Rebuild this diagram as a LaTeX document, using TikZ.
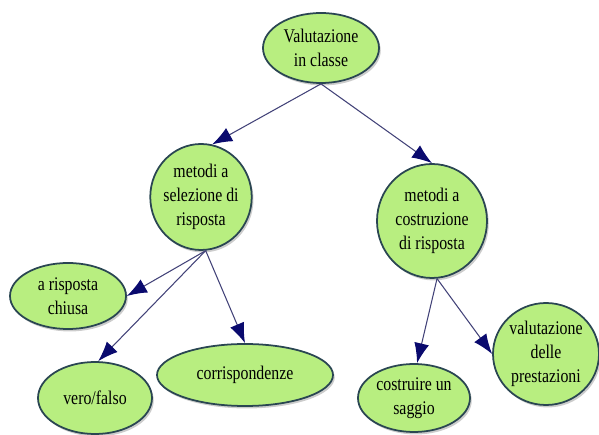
\documentclass[tikz,border=0pt]{standalone}
\usepackage{fontspec}
\setmainfont{Liberation Serif}[FakeStretch=0.82]
\usetikzlibrary{shapes.geometric, arrows.meta, shadows}
\definecolor{bubble}{RGB}{184,238,128}
\definecolor{rim}{RGB}{42,70,82}
\definecolor{navyline}{RGB}{66,66,120}
\definecolor{navytip}{RGB}{10,10,110}

\begin{document}
\begin{tikzpicture}[
    concept/.style={ellipse, draw=rim, line width=1pt, fill=bubble,
      inner sep=-1pt, align=center, font=\fontsize{11}{13.7}\selectfont,
      drop shadow={shadow xshift=1pt, shadow yshift=-1.4pt, opacity=0.4}},
    link/.style={draw=navyline, line width=0.6pt,
      -{Latex[length=4mm, width=3mm, color=navytip, fill=navytip]}}
  ]
    \useasboundingbox (0, 0) rectangle (11.98, -8.7);
    \node[concept, minimum width=2.32cm, minimum height=1.40cm] (val)
      at (6.42, -0.96) {Valutazione\\in classe};
    \node[concept, minimum width=1.96cm, minimum height=2.12cm] (sel)
      at (4.02, -3.94) {metodi a\\selezione di\\risposta};
    \node[concept, minimum width=2.2cm, minimum height=2.28cm] (cos)
      at (8.64, -4.42) {metodi a\\costruzione\\di risposta};
    \node[concept, minimum width=2.32cm, minimum height=1.32cm] (chiusa)
      at (1.36, -5.92) {a risposta\\chiusa};
    \node[concept, minimum width=2.28cm, minimum height=1.44cm] (vf)
      at (1.9, -7.96) {vero/falso};
    \node[concept, minimum width=3.52cm, minimum height=1.24cm] (corr)
      at (4.9, -7.5) {corrispondenze};
    \node[concept, minimum width=2.24cm, minimum height=1.36cm] (saggio)
      at (8.28, -7.96) {costruire un\\saggio};
    \node[concept, minimum width=2.12cm, minimum height=2.04cm] (prest)
      at (10.92, -7.08) {valutazione\\delle\\prestazioni};
    \draw[link] (val.south) -- (sel.78);
    \draw[link] (val.south) -- (cos.north);
    \draw[link] (sel.-85) -- (chiusa.east);
    \draw[link] (sel.-85) -- (vf.85);
    \draw[link] (sel.-85) -- (corr.north);
    \draw[link] (cos.-85) -- (saggio.85);
    \draw[link] (cos.-85) -- (prest.west);
  \end{tikzpicture}
\end{document}
